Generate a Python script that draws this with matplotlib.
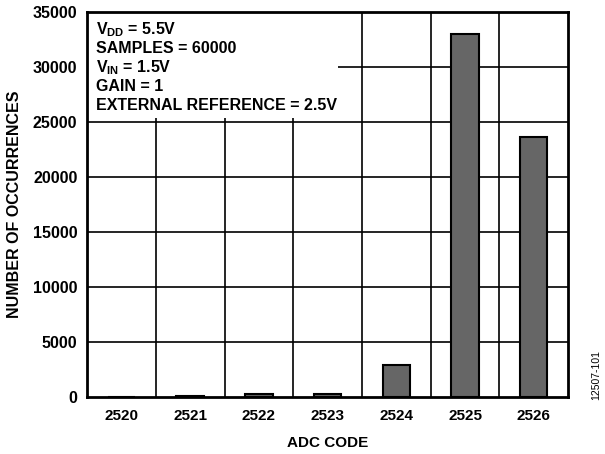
import matplotlib
matplotlib.use("Agg")
import matplotlib.pyplot as plt
from matplotlib.patches import Rectangle

plt.rcParams["font.family"] = ["Liberation Sans", "DejaVu Sans"]
plt.rcParams["mathtext.fontset"] = "custom"
plt.rcParams["mathtext.rm"] = "Liberation Sans:bold"
plt.rcParams["mathtext.bf"] = "Liberation Sans:bold"

codes = ["2520", "2521", "2522", "2523", "2524", "2525", "2526"]
occurrences = [10, 80, 300, 250, 2900, 33000, 23600]
y_ticks = [0, 5000, 10000, 15000, 20000, 25000, 30000, 35000]

fig = plt.figure(figsize=(6.05, 4.54), dpi=100)
ax = fig.add_axes([0.144, 0.1256, 0.795, 0.848])

x = list(range(len(codes)))
ax.bar(x, occurrences, width=0.4, color="#666666", edgecolor="black",
       linewidth=1.5, zorder=3)

ax.set_xlim(-0.5, len(codes) - 0.5)
ax.set_ylim(0, 35000)
ax.set_xticks(x)
ax.set_xticklabels(codes, fontweight="bold", fontsize=11)
ax.set_yticks(y_ticks)
ax.set_yticklabels([str(v) for v in y_ticks], fontweight="bold", fontsize=11.5)
ax.tick_params(axis="x", length=0, pad=9)
ax.tick_params(axis="y", length=0, pad=7)

# grid: horizontal at ticks, vertical between categories
for v in y_ticks[1:-1]:
    ax.axhline(v, color="black", linewidth=1.2, zorder=1)
for b in range(1, len(codes)):
    ax.axvline(b - 0.5, color="black", linewidth=1.2, zorder=1)

for s in ax.spines.values():
    s.set_linewidth(2)
    s.set_zorder(5)

# white box behind the annotation
ax.add_patch(Rectangle((0, 0.725), 0.522, 0.275, transform=ax.transAxes,
                       facecolor="white", edgecolor="none", zorder=2))
lines = [
    r"V$_{\mathbf{DD}}$ = 5.5V",
    "SAMPLES = 60000",
    r"V$_{\mathbf{IN}}$ = 1.5V",
    "GAIN = 1",
    "EXTERNAL REFERENCE = 2.5V",
]
for i, t in enumerate(lines):
    ax.text(0.018, 0.953 - i * 0.049, t, transform=ax.transAxes,
            fontsize=11.5, fontweight="bold", va="center", ha="left", zorder=4)

ax.set_xlabel("ADC CODE", fontweight="bold", fontsize=11, labelpad=9)
ax.set_ylabel("NUMBER OF OCCURRENCES", fontweight="bold", fontsize=11.5,
              labelpad=8)

fig.text(0.985, 0.12, "12507-101", rotation=90, fontsize=7.5,
         ha="center", va="bottom")

fig.savefig("out.png", dpi=100)
